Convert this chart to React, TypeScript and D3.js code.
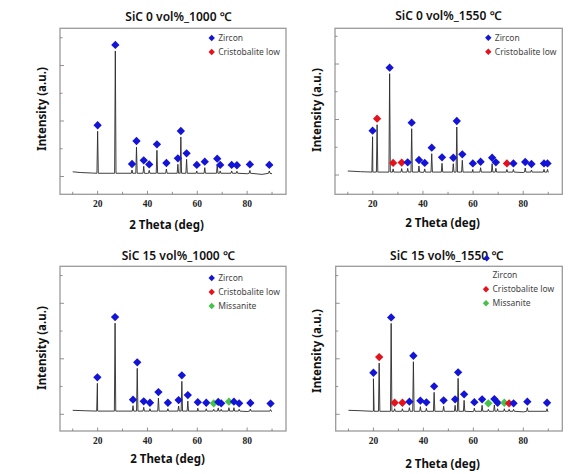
import React from "react";
import * as d3 from "d3";

// ---------- data ----------
const phaseNames = ["Zircon", "Cristobalite low", "Missanite"];
const phaseColors = ["#1414d6", "#e3121c", "#46c24a"];

const panelTitles = [
  "SiC 0 vol%_1000 \u2103",
  "SiC 0 vol%_1550 \u2103",
  "SiC 15 vol%_1000 \u2103",
  "SiC 15 vol%_1550 \u2103",
];
const xAxisLabel = "2 Theta (deg)";
const yAxisLabel = "Intensity (a.u.)";
const xTickValues = [10, 20, 30, 40, 50, 60, 70, 80, 90];
const xTickLabels = [20, 40, 60, 80];
const yTickValues = [0, 500, 1000, 1500, 2000, 2500];

// peaks: [2theta, intensity, phase index]
const peaksSiC0_1000: [number, number, number][] = [
  [20.0, 815, 0], [27.1, 2262, 0], [33.8, 117, 0], [35.6, 532, 0], [38.5, 184, 0],
  [40.7, 110, 0], [43.8, 472, 0], [47.6, 135, 0], [52.2, 220, 0], [53.4, 712, 0],
  [55.7, 310, 0], [59.8, 100, 0], [63.0, 159, 0], [68.0, 213, 0], [69.2, 100, 0],
  [73.8, 100, 0], [75.9, 95, 0], [81.1, 110, 0], [88.9, 100, 0],
];
const peaksSiC0_1550: [number, number, number][] = [
  [19.9, 690, 0], [21.7, 906, 1], [26.7, 1825, 0], [28.1, 110, 1], [31.5, 115, 1],
  [33.9, 120, 0], [35.5, 834, 0], [38.4, 162, 0], [40.7, 110, 0], [43.5, 384, 0],
  [47.6, 211, 0], [52.1, 203, 0], [53.5, 865, 0], [55.7, 265, 0], [59.9, 100, 0],
  [63.0, 131, 0], [67.6, 203, 0], [69.1, 121, 0], [73.5, 100, 1], [76.1, 100, 0],
  [80.8, 126, 0], [83.3, 90, 0], [88.3, 100, 0], [89.7, 100, 0],
];
const peaksSiC15_1000: [number, number, number][] = [
  [19.9, 558, 0], [27.0, 1643, 0], [34.2, 155, 0], [35.9, 828, 0], [38.5, 126, 0],
  [41.0, 100, 0], [44.4, 293, 0], [48.2, 100, 0], [52.5, 149, 0], [53.8, 594, 0],
  [56.2, 239, 0], [60.2, 110, 0], [63.6, 100, 0], [66.6, 90, 2], [68.4, 115, 0],
  [69.6, 90, 0], [72.7, 119, 2], [74.7, 119, 0], [76.8, 90, 0], [81.3, 95, 0],
  [89.4, 85, 0],
];
const peaksSiC15_1550: [number, number, number][] = [
  [20.0, 641, 0], [22.3, 923, 1], [27.1, 1638, 0], [28.5, 100, 1], [31.6, 100, 1],
  [34.4, 119, 0], [36.0, 947, 0], [38.8, 137, 0], [41.2, 108, 0], [44.3, 396, 0],
  [48.1, 144, 0], [52.7, 162, 0], [53.9, 648, 0], [56.3, 252, 0], [60.4, 110, 0],
  [63.5, 162, 0], [66.0, 90, 2], [68.4, 167, 0], [69.7, 100, 0], [72.4, 100, 2],
  [74.3, 90, 1], [76.1, 90, 0], [81.6, 119, 0], [89.5, 100, 0],
];

// background level: [2theta, intensity]
const baseSiC0_1000: [number, number][] = [
  [10, 85], [13, 72], [18, 62], [25, 58], [40, 55], [60, 55], [80, 50], [86, 38], [90, 50],
];
const baseSiC0_1550: [number, number][] = [
  [10, 72], [15, 60], [20, 52], [40, 48], [60, 45], [80, 45], [90, 45],
];
const baseSiC15_1000: [number, number][] = [
  [10, 72], [15, 64], [20, 60], [40, 58], [60, 55], [80, 50], [90, 45],
];
const baseSiC15_1550: [number, number][] = [
  [10, 72], [15, 64], [20, 58], [40, 52], [60, 48], [80, 44], [90, 42],
];

const allPeaks = [peaksSiC0_1000, peaksSiC0_1550, peaksSiC15_1000, peaksSiC15_1550];
const allBases = [baseSiC0_1000, baseSiC0_1550, baseSiC15_1000, baseSiC15_1550];
const legendCounts = [2, 2, 3, 3];

// ---------- layout ----------
const layouts = [
  { left: 60, top: 28.3, width: 226, height: 166, zeroOff: 148.2, titleX: 178.5, titleY: 21, xlabX: 166.5, xlabY: 228.5, ylabX: 46, ylabY: 109, legX: 211.7, legY: 38, legZX: 211.7, legZY: 38 },
  { left: 335, top: 28.3, width: 227.3, height: 166, zeroOff: 146.7, titleX: 448.3, titleY: 19.5, xlabX: 442.5, xlabY: 227, ylabX: 321, ylabY: 110, legX: 488.3, legY: 37.7, legZX: 488.3, legZY: 37.7 },
  { left: 60, top: 266.3, width: 226, height: 164.7, zeroOff: 148, titleX: 178.3, titleY: 259.6, xlabX: 167.5, xlabY: 463.3, ylabX: 46, ylabY: 348, legX: 211.7, legY: 278, legZX: 211.7, legZY: 278 },
  { left: 335.7, top: 266.3, width: 226.6, height: 164.7, zeroOff: 148, titleX: 446.7, titleY: 259.6, xlabX: 442.5, xlabY: 468, ylabX: 321, ylabY: 351, legX: 486, legY: 275.3, legZX: 486.7, legZY: 258.3 },
];

const TICK_PX = 27.75; // px per 500 counts
const X_DOMAIN: [number, number] = [4.9, 95.6];

const diamondBig = d3.symbol(d3.symbolDiamond2, 44)() as string;
const diamondSmall = d3.symbol(d3.symbolDiamond2, 26)() as string;

function Panel({ idx }: { idx: number }) {
  const L = layouts[idx];
  const peaks = allPeaks[idx];
  const base = allBases[idx];
  const x = d3.scaleLinear().domain(X_DOMAIN).range([L.left, L.left + L.width]);
  const yTopVal = (L.zeroOff / TICK_PX) * 500;
  const yBotVal = -((L.height - L.zeroOff) / TICK_PX) * 500;
  const y = d3.scaleLinear().domain([yBotVal, yTopVal]).range([L.top + L.height, L.top]);

  const baseLevel = d3.mean(base, (d) => d[1]) as number;
  const pts: [number, number][] = [...base];
  peaks.forEach(([p, I]) => {
    pts.push([p - 0.28, baseLevel]);
    pts.push([p, I]);
    pts.push([p + 0.28, baseLevel]);
  });
  pts.sort((a, b) => a[0] - b[0]);
  const line = d3
    .line<[number, number]>()
    .x((d) => x(d[0]))
    .y((d) => y(d[1]));

  const n = legendCounts[idx];
  return (
    <g>
      <text x={L.titleX} y={L.titleY} textAnchor="middle" fontFamily="Noto Sans, sans-serif" fontWeight={600} fontSize={12} fill="#111">
        {panelTitles[idx]}
      </text>
      <rect x={L.left} y={L.top} width={L.width} height={L.height} fill="none" stroke="#9a9a9a" strokeWidth={1.3} />
      {yTickValues.map((t, i) => (
        <line key={"yt" + i} x1={L.left} x2={L.left + (t % 1000 === 0 ? 4 : 2.5)} y1={y(t)} y2={y(t)} stroke="#777" strokeWidth={0.8} />
      ))}
      {xTickValues.map((t, i) => (
        <line key={"xt" + i} x1={x(t)} x2={x(t)} y1={L.top + L.height} y2={L.top + L.height - (t % 20 === 0 ? 3.5 : 2.5)} stroke="#777" strokeWidth={0.8} />
      ))}
      {xTickLabels.map((t, i) => (
        <text key={"xl" + i} x={x(t)} y={L.top + L.height + 12.5} textAnchor="middle" fontFamily="Liberation Serif, serif" fontWeight="bold" fontSize={9.5} fill="#222">
          {t}
        </text>
      ))}
      <text x={L.xlabX} y={L.xlabY} textAnchor="middle" fontFamily="Noto Sans, sans-serif" fontWeight={700} fontSize={11.5} fill="#111">
        {xAxisLabel}
      </text>
      <text transform={`translate(${L.ylabX},${L.ylabY}) rotate(-90)`} textAnchor="middle" fontFamily="Noto Sans, sans-serif" fontWeight={700} fontSize={11.5} fill="#111">
        {yAxisLabel}
      </text>
      <path d={line(pts) as string} fill="none" stroke="#2a2a2a" strokeWidth={0.9} strokeLinejoin="round" />
      {peaks.map(([p, I, ph], i) => (
        <path key={"m" + i} d={diamondBig} transform={`translate(${x(p)},${y(I) - 6})`} fill={phaseColors[ph]} />
      ))}
      {phaseNames.slice(0, n).map((name, i) => (
        <g key={"lg" + i}>
          <path
            d={diamondSmall}
            transform={`translate(${i === 0 ? L.legZX : L.legX},${i === 0 ? L.legZY : L.legY + i * 14})`}
            fill={phaseColors[i]}
          />
          <text x={L.legX + 6.5} y={L.legY + i * 14 + 3} fontFamily="Noto Sans, sans-serif" fontSize={8.5} fill="#444">
            {name}
          </text>
        </g>
      ))}
    </g>
  );
}

export default function App() {
  return (
    <svg width={571} height={474} style={{ position: "absolute", left: 0, top: 0, background: "#fff" }}>
      <rect width={571} height={474} fill="#fff" />
      {[0, 1, 2, 3].map((i) => (
        <Panel key={i} idx={i} />
      ))}
    </svg>
  );
}
